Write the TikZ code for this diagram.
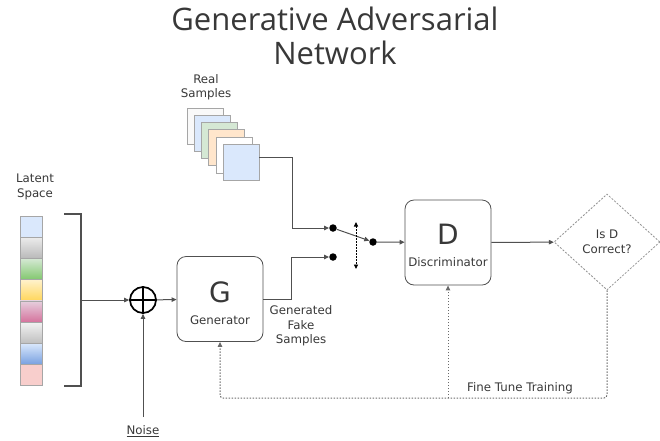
\documentclass[tikz,border=0pt]{standalone}
\usepackage{fontspec}
\setmainfont{DejaVu Sans}
\newfontfamily\titlefont{Open Sans}
\usepackage{tikz}
\usetikzlibrary{positioning}
\usetikzlibrary{arrows.meta}
\usetikzlibrary{shapes.geometric}
\usepackage{xcolor}
\definecolor{linegray}{HTML}{505050}
\definecolor{txtgray}{HTML}{383838}

\begin{document}
\begin{tikzpicture}[x=1pt, y=-1pt,
    every edge/.style={draw=linegray},
    conn/.style={draw=linegray, line width=1pt, -{Triangle[length=5pt,width=4.5pt]}},
    fb/.style={draw=linegray!85, line width=1pt, dash pattern=on 1.5pt off 1.5pt, -{Triangle[length=5pt,width=4.5pt]}},
    cell/.style={draw=gray!70, minimum width=22pt, minimum height=21.2pt, inner sep=0pt},
    sample/.style={draw=gray!70, minimum size=36pt, inner sep=0pt},
    block/.style={draw=linegray, line width=0.8pt, rounded corners=9pt, minimum width=86pt, minimum height=85pt, inner sep=0pt},
    lbl/.style={text=txtgray, font=\fontsize{11.8}{14.5}\selectfont, align=center},
    dot/.style={circle, fill=black, inner sep=0pt, minimum size=7.5pt}]
    \useasboundingbox (0,0) rectangle (660,440);
    % title
    \node[text=txtgray, font=\titlefont\fontsize{31}{34}\selectfont, align=center] (title) at (335,36) {Generative Adversarial\\Network};
    % latent space
    \node[lbl] (latent) at (35,187) {Latent\\Space};
    \node[cell, fill={rgb,255:red,218;green,232;blue,252}] (l1) at (31,226.6) {};
    \node[cell, top color=gray!15, bottom color=gray!55] (l2) at (31,247.8) {};
    \node[cell, top color={rgb,255:red,213;green,232;blue,212}, bottom color={rgb,255:red,130;green,200;blue,110}] (l3) at (31,269) {};
    \node[cell, top color={rgb,255:red,255;green,242;blue,204}, bottom color={rgb,255:red,255;green,214;blue,90}] (l4) at (31,290.2) {};
    \node[cell, top color={rgb,255:red,230;green,208;blue,222}, bottom color={rgb,255:red,213;green,115;blue,157}] (l5) at (31,311.4) {};
    \node[cell, top color=gray!10, bottom color=gray!50] (l6) at (31,332.6) {};
    \node[cell, top color={rgb,255:red,218;green,232;blue,252}, bottom color={rgb,255:red,120;green,160;blue,224}] (l7) at (31,353.8) {};
    \node[cell, fill={rgb,255:red,248;green,206;blue,204}] (l8) at (31,375) {};
    % bracket
    \coordinate (bt) at (64,214);
    \coordinate (bb) at (64,386);
    \coordinate (brk) at (81,300);
    \draw[linegray, line width=1.3pt] (bt) -- (81,214) -- (81,386) -- (bb);
    % sum and noise
    \node[circle, draw=black, line width=1.7pt, minimum size=26pt, inner sep=0pt] (plus) at (143,300) {};
    \draw[black, line width=1.7pt] (plus.north) -- (plus.south);
    \draw[black, line width=1.7pt] (plus.west) -- (plus.east);
    \node[lbl] (noise) at (143,431) {\underline{Noise}};
    \coordinate (nz) at (143,417);
    % generator and discriminator
    \node[block] (gen) at (220,299) {};
    \node[text=txtgray, font=\fontsize{28}{28}\selectfont] (genG) at (220,292) {G};
    \node[lbl] (genT) at (220,320) {Generator};
    \node[block] (disc) at (448,242.5) {};
    \node[text=txtgray, font=\fontsize{28}{28}\selectfont] (discD) at (448,234) {D};
    \node[lbl] (discT) at (448,262) {Discriminator};
    \node[lbl] (fake) at (301,326) {Generated\\Fake\\Samples};
    % real samples
    \node[lbl] (real) at (206,87) {Real\\Samples};
    \node[sample, fill=gray!5] (rs1) at (205,126) {};
    \node[sample, fill={rgb,255:red,218;green,232;blue,252}] (rs2) at (212.2,133.2) {};
    \node[sample, fill={rgb,255:red,213;green,232;blue,212}] (rs3) at (219.4,140.4) {};
    \node[sample, fill={rgb,255:red,255;green,230;blue,204}] (rs4) at (226.6,147.6) {};
    \node[sample, fill=white] (rs5) at (233.8,154.8) {};
    \node[sample, fill={rgb,255:red,218;green,232;blue,252}] (rs6) at (241,162) {};
    % switch
    \node[dot] (sw1) at (333,228) {};
    \node[dot] (sw2) at (333,257) {};
    \node[dot] (sw3) at (373,242) {};
    \coordinate (tA) at (356,222);
    \coordinate (tB) at (356,269);
    % decision
    \node[diamond, draw=gray!85, dash pattern=on 2pt off 1.5pt, line width=0.8pt, minimum width=106pt, minimum height=96pt, inner sep=0pt, lbl] (dia) at (607,242) {Is D\\Correct?};
    \coordinate (fbR) at (607,398);
    \coordinate (fbL) at (220,398);
    \node[lbl] (tune) at (520,388) {Fine Tune Training};
    % connectors
    \draw[conn] (brk) -- (plus);
    \draw[conn] (nz) -- (plus);
    \draw[conn] (plus) -- (gen);
    \draw[conn] (gen.east) -- ++(28,0) |- (sw2);
    \draw[conn] (rs6.east |- 0,157) -- ++(33,0) |- (sw1);
    \draw[conn] (sw1) -- (sw3);
    \draw[draw=black, line width=0.9pt, dash pattern=on 1.5pt off 1.5pt, {Triangle[length=4.5pt,width=4pt]}-{Triangle[length=4.5pt,width=4pt]}] (tA) -- (tB);
    \draw[conn] (sw3) -- (disc);
    \draw[conn] (disc) -- (dia);
    \draw[fb, rounded corners=3pt] (dia.south) -- (fbR) -- (fbL) -- (gen.south);
    \draw[fb] (disc.south |- fbL) -- (disc.south);
\end{tikzpicture}
\end{document}
